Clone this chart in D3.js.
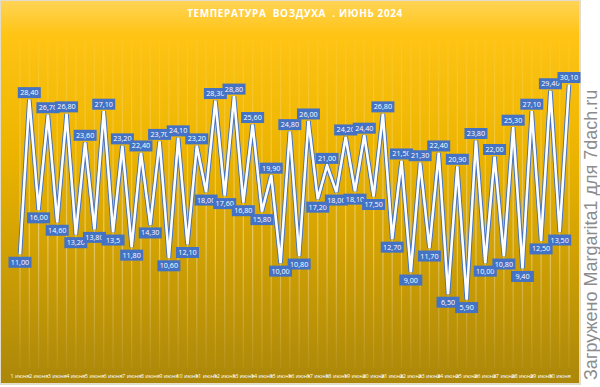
<!DOCTYPE html>
<html>
<head>
<meta charset="utf-8">
<script src="https://cdn.jsdelivr.net/npm/d3@7"></script>
<style>
  body { margin: 0; background: #fff; }
  svg { display: block; }
</style>
</head>
<body>
<svg width="600" height="387"></svg>
<script>
// Two readings per day, 1..30 June
const days = d3.range(1, 31).map(d => d + " июня");
const temps = [
  "11,00", "28,40", "16,00", "26,70", "14,60", "26,80", "13,20", "23,60", "13,80", "27,10",
  "13,5", "23,20", "11,80", "22,40", "14,30", "23,70", "10,60", "24,10", "12,10", "23,20",
  "18,00", "28,30", "17,60", "28,80", "16,80", "25,60", "15,80", "19,90", "10,00", "24,80",
  "10,80", "26,00", "17,20", "21,00", "18,00", "24,20", "18,10", "24,40", "17,50", "26,80",
  "12,70", "21,50", "9,00", "21,30", "11,70", "22,40", "6,50", "20,90", "5,90", "23,80",
  "10,00", "22,00", "10,80", "25,30", "9,40", "27,10", "12,50", "29,40", "13,50", "30,10"
];
const yTicks = [0, 35];

const svg = d3.select("svg");
const chartW = 580, chartH = 384;

const data = temps.map((t, i) => ({ i: i, label: t, value: +t.replace(",", ".") }));

const x = d3.scalePoint()
  .domain(d3.range(data.length))
  .range([20, 569]);

const y = d3.scaleLinear()
  .domain(yTicks)
  .range([352, 41]);

const defs = svg.append("defs");

const bg = defs.append("linearGradient")
  .attr("id", "bg").attr("x1", 0).attr("y1", 0).attr("x2", 0).attr("y2", 1);
bg.append("stop").attr("offset", "0").attr("stop-color", "#ffd458");
bg.append("stop").attr("offset", "0.09").attr("stop-color", "#ffc414");
bg.append("stop").attr("offset", "0.4").attr("stop-color", "#ecb400");
bg.append("stop").attr("offset", "1").attr("stop-color", "#ab870a");

const grid = defs.append("linearGradient")
  .attr("id", "grid").attr("gradientUnits", "userSpaceOnUse")
  .attr("x1", 0).attr("y1", 41).attr("x2", 0).attr("y2", 368);
grid.append("stop").attr("offset", "0").attr("stop-color", "#fff").attr("stop-opacity", 0.05);
grid.append("stop").attr("offset", "0.6").attr("stop-color", "#fff").attr("stop-opacity", 0.4);
grid.append("stop").attr("offset", "1").attr("stop-color", "#fff").attr("stop-opacity", 0.05);

// chart background
svg.append("rect")
  .attr("x", 0).attr("y", 0)
  .attr("width", chartW).attr("height", chartH)
  .attr("fill", "url(#bg)")
  .attr("stroke", "#e3dccb").attr("stroke-width", 2);

// vertical grid lines
svg.append("g")
  .selectAll("line")
  .data(data)
  .join("line")
    .attr("x1", d => x(d.i)).attr("x2", d => x(d.i))
    .attr("y1", y(yTicks[1])).attr("y2", 368)
    .attr("stroke", "url(#grid)")
    .attr("stroke-width", 1.2);

// title
svg.append("text")
  .attr("x", 295).attr("y", 17)
  .attr("text-anchor", "middle")
  .attr("fill", "#fff")
  .attr("font-family", "Open Sans, sans-serif")
  .attr("font-weight", "bold")
  .attr("font-size", 10)
  .attr("letter-spacing", 0.6)
  .attr("xml:space", "preserve")
  .text("ТЕМПЕРАТУРА  ВОЗДУХА  . ИЮНЬ 2024");

// line: blue edge with white core
const line = d3.line()
  .x(d => x(d.i))
  .y(d => y(d.value));

svg.append("path")
  .datum(data)
  .attr("d", line)
  .attr("fill", "none")
  .attr("stroke", "#4472c4")
  .attr("stroke-width", 4.5);

svg.append("path")
  .datum(data)
  .attr("d", line)
  .attr("fill", "none")
  .attr("stroke", "#fff")
  .attr("stroke-width", 2.6);

// data labels: above for peaks, below for troughs
const isPeak = d => {
  const prev = data[d.i - 1], next = data[d.i + 1];
  const ref = prev ? prev.value : next.value;
  return d.value > ref;
};

const lab = svg.append("g")
  .selectAll("g")
  .data(data)
  .join("g")
    .attr("transform", d => `translate(${x(d.i)},${y(d.value) + (isPeak(d) ? -7 : 8)})`);

lab.append("rect")
  .attr("x", -11.5).attr("y", -5.5)
  .attr("width", 23).attr("height", 11)
  .attr("fill", "#4472c4");

lab.append("text")
  .attr("text-anchor", "middle")
  .attr("dy", "0.35em")
  .attr("fill", "#fff")
  .attr("font-family", "Open Sans, sans-serif")
  .attr("font-size", 7.2)
  .text(d => d.label);

// day labels under every other point
svg.append("g")
  .selectAll("text")
  .data(days)
  .join("text")
    .attr("x", (d, k) => x(k * 2))
    .attr("y", 378)
    .attr("text-anchor", "middle")
    .attr("fill", "#fff")
    .attr("font-family", "Open Sans, sans-serif")
    .attr("font-size", 5.5)
    .text(d => d);

// watermark
svg.append("text")
  .attr("transform", "translate(597,380) rotate(-90)")
  .attr("fill", "#8c8c8c")
  .attr("font-family", "Liberation Sans, Arial, sans-serif")
  .attr("font-size", 18)
  .text("Загружено Margarita1 для 7dach.ru");
</script>
</body>
</html>
